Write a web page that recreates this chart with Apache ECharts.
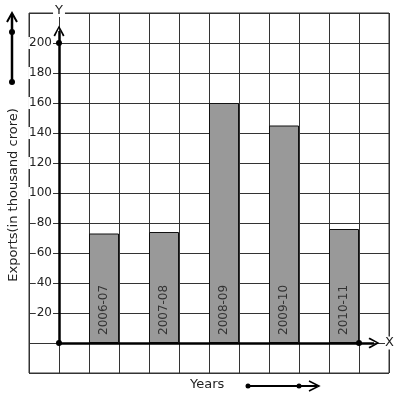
<!DOCTYPE html>
<html>
<head>
<meta charset="utf-8">
<script src="https://cdn.jsdelivr.net/npm/echarts@6/dist/echarts.min.js"></script>
<style>
    html, body { margin: 0; padding: 0; background: #fff; }
    #chart { width: 397px; height: 399px; }
</style>
</head>
<body>
<div id="chart"></div>
<script>
const years = ['2006-07', '2007-08', '2008-09', '2009-10', '2010-11'];
const exportsValues = [73, 74, 160, 145, 76];
const yTicks = [20, 40, 60, 80, 100, 120, 140, 160, 180, 200];

// open chevron pointing up, markLine rotates it along the line
const chevron = 'path://M5,0 L10,9 L8.6,10 L5,2.6 L1.4,10 L0,9 Z';
const font = 'DejaVu Sans';

const chart = echarts.init(document.getElementById('chart'));

// each year sits on every second grid cell
const barData = years.map((name, i) => ({
    name: name,
    value: [2 * i + 1.5, exportsValues[i]]
}));

const option = {
    animation: false,
    textStyle: { fontFamily: font },
    grid: {
        left: 29,
        right: 8,
        top: 13,
        bottom: 26,
        show: true,
        borderColor: '#333',
        borderWidth: 1
    },
    xAxis: {
        type: 'value',
        min: -1,
        max: 11,
        interval: 1,
        offset: -30,
        name: 'X',
        nameLocation: 'end',
        nameGap: -4,
        nameTextStyle: { fontSize: 13, color: '#222', backgroundColor: '#fff', fontFamily: font },
        axisLine: { show: false },
        axisTick: { show: false },
        axisLabel: { show: false },
        splitLine: { show: true, lineStyle: { color: '#333', width: 1 } }
    },
    yAxis: {
        type: 'value',
        min: -20,
        max: 220,
        interval: 20,
        offset: -30,
        name: 'Y',
        nameLocation: 'end',
        nameGap: -4,
        nameTextStyle: { fontSize: 13, color: '#222', backgroundColor: '#fff', fontFamily: font, padding: [0, 2] },
        axisLine: { show: false },
        axisTick: { show: false },
        axisLabel: {
            margin: 6,
            fontSize: 12,
            color: '#222',
            fontFamily: font,
            backgroundColor: '#fff',
            padding: [0, 1],
            formatter: function (v) {
                return yTicks.indexOf(v) >= 0 ? String(v) : '';
            }
        },
        splitLine: { show: true, lineStyle: { color: '#333', width: 1 } }
    },
    series: [{
        type: 'bar',
        data: barData,
        barWidth: 30,
        itemStyle: { color: '#999', borderColor: '#111', borderWidth: 1 },
        label: {
            show: true,
            position: 'insideBottom',
            rotate: 90,
            align: 'left',
            verticalAlign: 'middle',
            distance: 8,
            fontSize: 12,
            color: '#333',
            fontFamily: font,
            formatter: '{b}'
        },
        markLine: {
            silent: true,
            animation: false,
            label: { show: false },
            lineStyle: { color: '#000', width: 2.5, type: 'solid' },
            symbolSize: 6,
            data: [
                [{ coord: [0, 0], symbol: 'circle', symbolSize: 6 }, { coord: [0, 200], symbol: 'circle', symbolSize: 6 }],
                [{ coord: [0, 200], symbol: 'none' }, { coord: [0, 208], symbol: chevron, symbolSize: 11 }],
                [{ coord: [0, 0], symbol: 'none' }, { coord: [10, 0], symbol: 'circle', symbolSize: 6 }],
                [{ coord: [10, 0], symbol: 'none' }, { coord: [10.5, 0], symbol: chevron, symbolSize: 11 }]
            ]
        }
    }],
    graphic: [
        {
            type: 'text',
            x: 14,
            y: 195,
            rotation: Math.PI / 2,
            style: {
                text: 'Exports(in thousand crore)',
                fontSize: 13,
                fontFamily: font,
                fill: '#222',
                align: 'center',
                verticalAlign: 'middle'
            }
        },
        {
            type: 'text',
            x: 190,
            y: 385,
            style: {
                text: 'Years',
                fontSize: 13,
                fontFamily: font,
                fill: '#222',
                align: 'left',
                verticalAlign: 'middle'
            }
        },
        // decorative arrow at top left
        { type: 'line', shape: { x1: 12, y1: 82, x2: 12, y2: 15 }, style: { stroke: '#000', lineWidth: 2.5 } },
        { type: 'circle', shape: { cx: 12, cy: 82, r: 3 }, style: { fill: '#000' } },
        { type: 'circle', shape: { cx: 12, cy: 32, r: 3 }, style: { fill: '#000' } },
        { type: 'polyline', shape: { points: [[7, 22], [12, 13], [17, 22]] }, style: { stroke: '#000', lineWidth: 2, fill: null } },
        // decorative arrow next to "Years"
        { type: 'line', shape: { x1: 248, y1: 386, x2: 317, y2: 386 }, style: { stroke: '#000', lineWidth: 2 } },
        { type: 'circle', shape: { cx: 248, cy: 386, r: 2.5 }, style: { fill: '#000' } },
        { type: 'circle', shape: { cx: 299, cy: 386, r: 2.5 }, style: { fill: '#000' } },
        { type: 'polyline', shape: { points: [[309, 381], [319, 386], [309, 391]] }, style: { stroke: '#000', lineWidth: 1.5, fill: null } }
    ]
};

chart.setOption(option);
</script>
</body>
</html>
